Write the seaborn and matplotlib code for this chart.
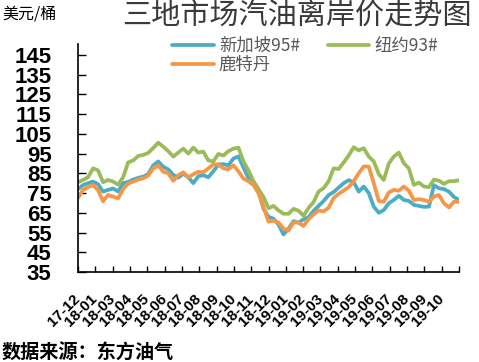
import numpy as np
import pandas as pd
import matplotlib
matplotlib.use("Agg")
import matplotlib.pyplot as plt
import seaborn as sns

# ---- data ----
months = ["17-12", "18-01", "18-03", "18-04", "18-05", "18-06", "18-07", "18-08",
          "18-09", "18-10", "18-11", "18-12", "19-01", "19-02", "19-03", "19-04",
          "19-05", "19-06", "19-07", "19-08", "19-09", "19-10"]

singapore95 = [77, 79, 80, 80.8, 79.5, 75.7, 76.6, 77.3, 75.8, 80,
               80.6, 81.8, 82.7, 83.3, 84.6, 89, 91, 88.3, 87, 84.2,
               82.8, 84.8, 83, 80, 83.5, 84, 83, 86, 89.4, 89.7,
               89, 92.5, 93.5, 88, 82.5, 80.3, 76, 67, 63, 62,
               59, 54, 57, 60.8, 60, 61.7, 62.8, 66, 68.5, 71,
               74, 75.5, 77.8, 80, 81.5, 80.5, 75.7, 78.3, 75, 68.1,
               65, 66.4, 69.8, 71.5, 73.6, 71.5, 71, 69, 68.5, 68,
               68.1, 79, 77.4, 77, 75.7, 73, 71.5]

newyork93 = [80.5, 81.6, 83, 87.5, 86.5, 80.5, 81.6, 80.8, 79.3, 83,
             90.5, 91.5, 93.8, 94.3, 95.3, 97.8, 100.5, 98.5, 96.2, 93.5,
             95.5, 97.5, 95, 98, 95.5, 96, 91.5, 91, 94.8, 94,
             96.2, 97.5, 98, 91, 86.5, 81, 77, 73, 67.3, 68.5,
             66.2, 64.5, 64.5, 67, 66, 63.5, 67.5, 70.5, 75.8, 77.5,
             81, 87.5, 87.2, 90.5, 94, 98.2, 96.6, 97.7, 93.5, 91,
             84.6, 81.6, 90, 93.5, 95.5, 90.1, 87.5, 79.1, 80.3, 78.3,
             78, 81.8, 81.3, 79.6, 81, 81, 81.5]

rotterdam = [72.5, 76.6, 78, 79, 76.5, 70.8, 74, 73.2, 72.3, 77,
             79.8, 80.8, 81.8, 82.5, 83.8, 87.5, 89, 85.8, 85, 81.2,
             84, 85.5, 83, 84.5, 85.8, 85.5, 87.5, 89.5, 89.5, 87.5,
             87, 89, 86, 82.3, 81, 79, 75, 68, 60.5, 61,
             60, 57, 56, 60.2, 60, 58.3, 61.8, 64.2, 66.2, 65.7,
             67.6, 72.5, 74.6, 76.2, 78, 81, 85, 88.5, 88.4, 80,
             71, 70.6, 75.3, 76.6, 76.2, 78.3, 76.2, 71.5, 71.9, 71.5,
             70.6, 73.2, 74, 69.8, 67.7, 70.6, 70.5]

series_names = ["新加坡95#", "纽约93#", "鹿特丹"]
colors = ["#4BACC6", "#9BBB59", "#F79646"]
yticks = list(range(35, 146, 10))

n = len(singapore95)
df = pd.DataFrame({
    "idx": np.tile(np.arange(n), 3),
    "price": singapore95 + newyork93 + rotterdam,
    "market": np.repeat(series_names, n),
})

# ---- style ----
sns.set_style("ticks")
plt.rcParams["font.family"] = ["Liberation Sans", "Noto Sans CJK SC", "DejaVu Sans"]
cjk = ["Noto Sans CJK SC", "DejaVu Sans"]

W, H = 479, 362
fig = plt.figure(figsize=(W / 100, H / 100), dpi=100)
ax = fig.add_axes([78 / W, 1 - 272 / H, (459 - 78) / W, (272 - 44) / H])

sns.lineplot(data=df, x="idx", y="price", hue="market", hue_order=series_names,
             palette=colors, linewidth=2.7, legend=False, errorbar=None, ax=ax)

ax.set_xlim(0, n - 1)
ax.set_ylim(35, 150.5)
ax.set_xlabel("")
ax.set_ylabel("")

xt = np.linspace(0, n - 1, len(months) + 1)
ax.set_xticks(xt)
ax.set_xticklabels(months + [""], rotation=45, ha="right", va="center",
                   rotation_mode="anchor", fontsize=11, fontweight="bold")
ax.set_yticks(yticks)
ax.set_yticklabels([str(v) for v in yticks], fontsize=16, fontweight="bold")

ax.tick_params(axis="x", direction="in", length=4.5, width=1, pad=18, colors="black")
ax.tick_params(axis="y", direction="in", length=5.5, width=1, pad=19, colors="black")

sns.despine(ax=ax, top=True, right=True)
for s in ("left", "bottom"):
    ax.spines[s].set_color("black")
    ax.spines[s].set_linewidth(1.2)

# legend: row1 = Singapore, New York ; row2 = Rotterdam
lines = ax.get_lines()
handles = [lines[0], lines[2], lines[1]]
labels = [series_names[0], series_names[2], series_names[1]]
leg = fig.legend(handles, labels, ncol=2, loc="upper left",
                 bbox_to_anchor=(172 / W, 1 - 37 / H), frameon=False,
                 prop={"family": cjk, "size": 12.5}, handlelength=2.4,
                 handletextpad=0.3, columnspacing=1.6, labelspacing=0.05,
                 borderaxespad=0, borderpad=0)
for t in leg.get_texts():
    t.set_color("#595959")

fig.text(297 / W, 1 - 17 / H, "三地市场汽油离岸价走势图", ha="center", va="center",
         fontsize=21, family=cjk, fontweight="light", color="#3a3a3a")
fig.text(2 / W, 1 - 14 / H, "美元/桶", ha="left", va="center",
         fontsize=11.5, family=cjk, color="black")
fig.text(2 / W, 1 - 353 / H, "数据来源：东方油气", ha="left", va="center",
         fontsize=13.8, family=cjk, fontweight="bold", color="black")

fig.savefig("out.png", dpi=100)
